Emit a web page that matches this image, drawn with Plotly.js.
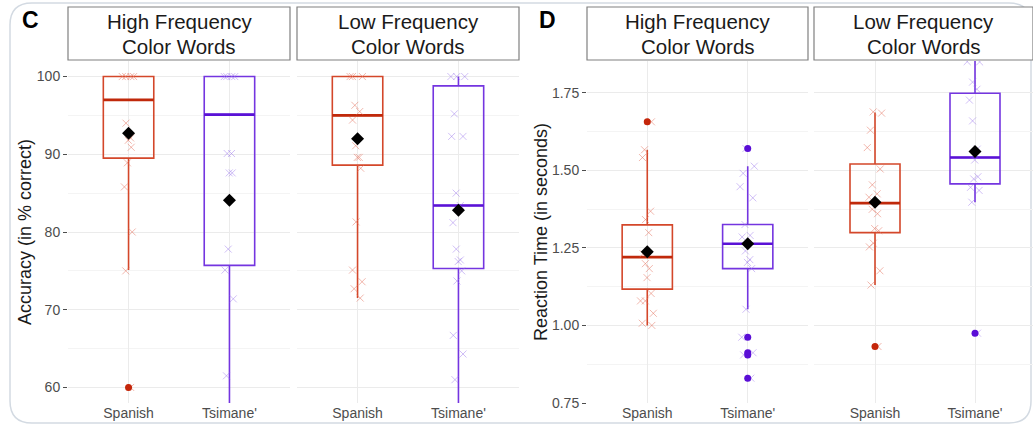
<!DOCTYPE html>
<html>
<head>
<meta charset="utf-8">
<script src="https://cdn.plot.ly/plotly-3.0.1.min.js"></script>
<style>html,body{margin:0;padding:0;background:#fff;}#chart{width:1033px;height:426px;}</style>
</head>
<body>
<div id="chart"></div>
<script>
// ---------- DATA ----------
const groups = ['Spanish', "Tsimane'"];
const stripLabels = [['High Frequency', 'Color Words'], ['Low Frequency', 'Color Words']];
const panelLabels = ['C', 'D'];
const yTitles = ['Accuracy (in % correct)', 'Reaction Time (in seconds)'];

// Panel C: accuracy, High Frequency
const accHfSpanishPts = [100, 100, 100, 100, 94.0, 92.1, 91.8, 90.9, 88.9, 85.8, 80.0, 75.0, 60.0];
const accHfTsimanePts = [100, 100, 100, 100, 90.1, 90.1, 87.6, 87.6, 77.8, 75.1, 71.4, 61.5, 50.0];
const accHfQ1 = [89.5, 75.7];
const accHfMed = [97.0, 95.1];
const accHfQ3 = [100, 100];
const accHfLow = [75.1, 50.0];
const accHfHigh = [100, 100];
const accHfMean = [92.7, 84.1];
const accHfSpanishOut = [60.0];
const accHfTsimaneOut = [];

// Panel C: accuracy, Low Frequency
const accLfSpanishPts = [100, 100, 100, 96.3, 95.5, 94.4, 91.1, 89.6, 89.6, 88.2, 81.3, 75.1, 73.6, 72.7, 71.5];
const accLfTsimanePts = [100, 100, 100, 95.2, 92.3, 92.3, 85.0, 83.4, 81.2, 77.8, 76.4, 76.2, 75.0, 73.7, 66.7, 64.3, 61.0, 52.0];
const accLfQ1 = [88.6, 75.3];
const accLfMed = [95.0, 83.4];
const accLfQ3 = [100, 98.8];
const accLfLow = [71.5, 52.0];
const accLfHigh = [100, 100];
const accLfMean = [92.0, 82.8];
const accLfSpanishOut = [];
const accLfTsimaneOut = [];

// Panel D: reaction time, High Frequency
const rtHfSpanishPts = [1.656, 1.566, 1.541, 1.368, 1.341, 1.299, 1.231, 1.199, 1.183, 1.154, 1.103, 1.079, 1.079, 1.039, 1.007, 1.000];
const rtHfTsimanePts = [1.570, 1.513, 1.490, 1.447, 1.411, 1.325, 1.290, 1.285, 1.240, 1.212, 1.203, 1.183, 1.052, 0.962, 0.912, 0.905, 0.830];
const rtHfQ1 = [1.117, 1.183];
const rtHfMed = [1.220, 1.263];
const rtHfQ3 = [1.324, 1.325];
const rtHfLow = [1.000, 1.052];
const rtHfHigh = [1.566, 1.513];
const rtHfMean = [1.237, 1.263];
const rtHfSpanishOut = [1.656];
const rtHfTsimaneOut = [1.570, 0.962, 0.912, 0.905, 0.830];

// Panel D: reaction time, Low Frequency
const rtLfSpanishPts = [1.688, 1.684, 1.629, 1.573, 1.504, 1.453, 1.424, 1.413, 1.374, 1.360, 1.312, 1.305, 1.265, 1.253, 1.176, 1.130, 0.932];
const rtLfTsimanePts = [1.880, 1.850, 1.849, 1.784, 1.761, 1.726, 1.659, 1.568, 1.533, 1.479, 1.472, 1.445, 1.435, 1.397, 0.975];
const rtLfQ1 = [1.299, 1.456];
const rtLfMed = [1.394, 1.541];
const rtLfQ3 = [1.520, 1.748];
const rtLfLow = [1.130, 1.397];
const rtLfHigh = [1.686, 1.880];
const rtLfMean = [1.397, 1.560];
const rtLfSpanishOut = [0.932];
const rtLfTsimaneOut = [0.975];

// ---------- STYLE ----------
const W = 1033, H = 426;
const px = v => v / W;
const py = v => 1 - v / H;
const FONT = 'Liberation Sans, Arial, Helvetica, sans-serif';
const lineCol = ['#D4472A', '#7435E0'];
const medCol = ['#C0290B', '#5A12D6'];
const outCol = ['#C4260A', '#5A0ED6'];
const ptCol = ['rgba(228,112,92,0.5)', 'rgba(150,112,236,0.45)'];

const facets = [
  {xa: 'x',  ya: 'y',  q1: accHfQ1, med: accHfMed, q3: accHfQ3, lo: accHfLow, hi: accHfHigh, mean: accHfMean,
   pts: [accHfSpanishPts, accHfTsimanePts], out: [accHfSpanishOut, accHfTsimaneOut]},
  {xa: 'x2', ya: 'y',  q1: accLfQ1, med: accLfMed, q3: accLfQ3, lo: accLfLow, hi: accLfHigh, mean: accLfMean,
   pts: [accLfSpanishPts, accLfTsimanePts], out: [accLfSpanishOut, accLfTsimaneOut]},
  {xa: 'x3', ya: 'y2', q1: rtHfQ1, med: rtHfMed, q3: rtHfQ3, lo: rtHfLow, hi: rtHfHigh, mean: rtHfMean,
   pts: [rtHfSpanishPts, rtHfTsimanePts], out: [rtHfSpanishOut, rtHfTsimaneOut]},
  {xa: 'x4', ya: 'y2', q1: rtLfQ1, med: rtLfMed, q3: rtLfQ3, lo: rtLfLow, hi: rtLfHigh, mean: rtLfMean,
   pts: [rtLfSpanishPts, rtLfTsimanePts], out: [rtLfSpanishOut, rtLfTsimaneOut]}
];

const traces = [];
facets.forEach(f => {
  groups.forEach((g, i) => {
    // box outline
    traces.push({type: 'box', x: [g], q1: [f.q1[i]], median: [f.med[i]], q3: [f.q3[i]],
      lowerfence: [f.lo[i]], upperfence: [f.hi[i]], width: 0.5, whiskerwidth: 0,
      line: {color: lineCol[i], width: 1.6}, fillcolor: 'rgba(0,0,0,0)', boxpoints: false,
      xaxis: f.xa, yaxis: f.ya, hoverinfo: 'skip', showlegend: false});
    // thicker median bar
    traces.push({type: 'box', x: [g], q1: [f.med[i]], median: [f.med[i]], q3: [f.med[i]],
      lowerfence: [f.med[i]], upperfence: [f.med[i]], width: 0.5, whiskerwidth: 0,
      line: {color: medCol[i], width: 2.6}, fillcolor: 'rgba(0,0,0,0)', boxpoints: false,
      xaxis: f.xa, yaxis: f.ya, hoverinfo: 'skip', showlegend: false});
    // jittered raw points
    traces.push({type: 'box', x: f.pts[i].map(() => g), y: f.pts[i], width: 0.5,
      boxpoints: 'all', jitter: 0.35, pointpos: 0,
      line: {color: 'rgba(0,0,0,0)', width: 0}, fillcolor: 'rgba(0,0,0,0)',
      marker: {symbol: 'x-thin-open', size: 7, color: ptCol[i], line: {color: ptCol[i], width: 1}},
      xaxis: f.xa, yaxis: f.ya, hoverinfo: 'skip', showlegend: false});
    // outliers
    traces.push({type: 'scatter', mode: 'markers', x: f.out[i].map(() => g), y: f.out[i],
      marker: {symbol: 'circle', size: 7, color: outCol[i]},
      xaxis: f.xa, yaxis: f.ya, hoverinfo: 'skip', showlegend: false});
  });
  // means
  traces.push({type: 'scatter', mode: 'markers', x: groups, y: f.mean,
    marker: {symbol: 'diamond', size: 10, color: '#000000'},
    xaxis: f.xa, yaxis: f.ya, hoverinfo: 'skip', showlegend: false});
});

const xBase = {type: 'category', categoryorder: 'array', categoryarray: groups,
  showgrid: true, gridcolor: '#EBEBEB', gridwidth: 1, zeroline: false, showline: false,
  ticks: '', tickfont: {family: FONT, size: 14, color: '#4D4D4D'}, fixedrange: true};
const yDomain = [py(403), py(61)];
const yBase = {showgrid: true, gridcolor: '#EBEBEB', gridwidth: 1, zeroline: false, showline: false,
  ticks: 'outside', ticklen: 4, tickwidth: 1, tickcolor: '#4D4D4D',
  tickfont: {family: FONT, size: 14, color: '#4D4D4D'}, domain: yDomain, fixedrange: true};

const layout = {
  width: W, height: H, margin: {l: 0, r: 0, t: 0, b: 0},
  paper_bgcolor: '#ffffff', plot_bgcolor: '#ffffff',
  boxmode: 'overlay', hovermode: false, showlegend: false,
  font: {family: FONT},
  xaxis:  Object.assign({}, xBase, {domain: [px(68), px(290)], anchor: 'y', range: [-0.6, 1.6]}),
  xaxis2: Object.assign({}, xBase, {domain: [px(297), px(519)], anchor: 'y', range: [-0.6, 1.6]}),
  xaxis3: Object.assign({}, xBase, {domain: [px(587), px(808)], anchor: 'y2', range: [-0.6, 1.6]}),
  xaxis4: Object.assign({}, xBase, {domain: [px(814), px(1033)], anchor: 'y2', range: [-0.61, 1.58]}),
  yaxis: Object.assign({}, yBase, {anchor: 'x', range: [58.0, 102.0], tick0: 0, dtick: 10,
    minor: {dtick: 5, showgrid: true, gridcolor: '#F4F4F4', ticks: ''}}),
  yaxis2: Object.assign({}, yBase, {anchor: 'x3', range: [0.75, 1.852], tick0: 0, dtick: 0.25, tickformat: '.2f',
    minor: {dtick: 0.125, showgrid: true, gridcolor: '#F4F4F4', ticks: ''}}),
  shapes: [],
  annotations: []
};

// card outline with rounded corners
(function () {
  const x0 = 10, x1 = 1031, y0 = 3, y1 = 423, r = 22;
  const X = v => px(v), Y = v => py(v);
  const p = `M ${X(x0 + r)},${Y(y0)} L ${X(x1 - r)},${Y(y0)} Q ${X(x1)},${Y(y0)} ${X(x1)},${Y(y0 + r)} ` +
    `L ${X(x1)},${Y(y1 - r)} Q ${X(x1)},${Y(y1)} ${X(x1 - r)},${Y(y1)} L ${X(x0 + r)},${Y(y1)} ` +
    `Q ${X(x0)},${Y(y1)} ${X(x0)},${Y(y1 - r)} L ${X(x0)},${Y(y0 + r)} Q ${X(x0)},${Y(y0)} ${X(x0 + r)},${Y(y0)} Z`;
  layout.shapes.push({type: 'path', xref: 'paper', yref: 'paper', path: p,
    line: {color: '#D3DAE2', width: 1.5}, fillcolor: 'rgba(0,0,0,0)', layer: 'below'});
})();

// strips
['x', 'x2', 'x3', 'x4'].forEach((xa, k) => {
  layout.shapes.push({type: 'rect', xref: xa + ' domain', yref: 'paper', x0: 0, x1: 1, y0: py(60), y1: py(7),
    line: {color: '#808080', width: 1.2}, fillcolor: '#ffffff'});
  stripLabels[k % 2].forEach((line, j) => {
    layout.annotations.push({xref: xa + ' domain', yref: 'paper', x: 0.5, y: py(j === 0 ? 22 : 46),
      xanchor: 'center', yanchor: 'middle', text: line, showarrow: false,
      font: {family: FONT, size: 20.5, color: '#1A1A1A'}});
  });
});

// y-axis titles
[[25, yTitles[0]], [541, yTitles[1]]].forEach(([x, t]) => {
  layout.annotations.push({xref: 'paper', yref: 'paper', x: px(x), y: py(232), xanchor: 'center', yanchor: 'middle',
    text: t, textangle: -90, showarrow: false, font: {family: FONT, size: 18, color: '#1A1A1A'}});
});

// panel letters
[[30, panelLabels[0]], [547, panelLabels[1]]].forEach(([x, t]) => {
  layout.annotations.push({xref: 'paper', yref: 'paper', x: px(x), y: py(20), xanchor: 'center', yanchor: 'middle',
    text: '<b>' + t + '</b>', showarrow: false, font: {family: FONT, size: 23, color: '#000000'}});
});

Plotly.newPlot('chart', traces, layout, {staticPlot: true, displayModeBar: false});
</script>
</body>
</html>
